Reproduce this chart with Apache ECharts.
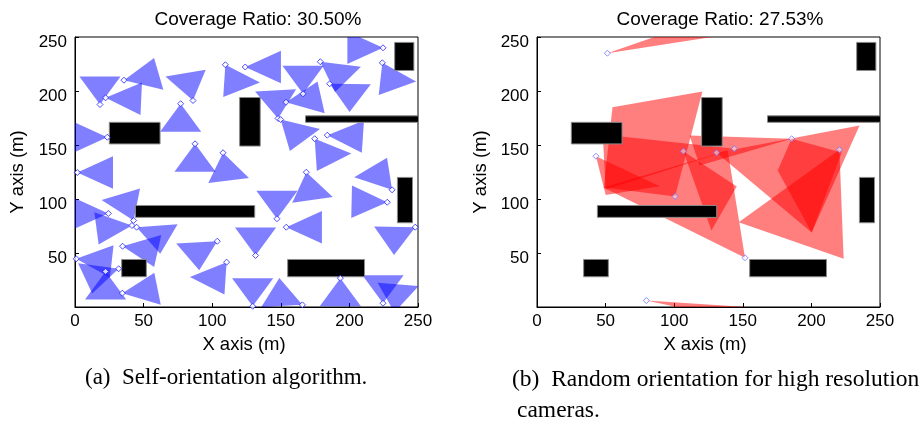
<!DOCTYPE html>
<html><head><meta charset="utf-8">
<script src="https://cdn.jsdelivr.net/npm/echarts@6/dist/echarts.min.js"></script>
<style>html,body{margin:0;padding:0;background:#fff}#c{width:924px;height:427px}</style>
</head><body><div id="c"></div>
<script>
// ---------- data ----------
const titles = ['Coverage Ratio: 30.50%', 'Coverage Ratio: 27.53%'];
const xTicks = [0, 50, 100, 150, 200, 250];
const yTicks = [50, 100, 150, 200, 250];

// obstacles (m): x1, x2, y1, y2
const obsX1 = [233, 25, 120, 168, 44, 235, 34, 155];
const obsX2 = [247, 62, 135, 252, 131, 246, 52, 211];
const obsY1 = [219, 151, 149, 171, 83, 78, 28, 28];
const obsY2 = [245, 171, 194, 177, 94, 120, 44, 44];

// (a) self-orientation: camera position (m) and heading (deg)
const leftCamX = [18.2,22.3,35.7,86.0,77.0,23.5,87.5,107.9,124.1,109.6,166.2,178.8,185.6,153.8,148.0,149.9,183.9,174.7,168.6,224.5,224.0,1.7,24.3,42.7,41.5,44.9,34.7,103.7,110.5,0.9,22.3,31.8,34.5,147.2,154.0,131.6,231.1,227.6,248.0,129.5,165.7,193.4,224.5,250.4];
const leftCamY = [187.5,193.7,210.0,191.2,188.2,157.2,151.1,142.8,222.2,224.3,197.4,227.1,206.7,189.6,174.6,173.6,159.1,155.8,124.8,240.0,226.1,124.5,86.6,80.1,75.5,73.9,56.3,60.9,41.5,44.6,32.9,35.4,12.8,81.7,73.9,47.7,108.5,97.0,73.9,0.7,2.0,26.7,3.5,19.3];
const leftCamDir = [90,-2,13,102,-90,180,-90,-81,0,-63,90,-39,-31,10,94,-47,-3,-57,-80,180,-65,0,180,111,186,-25,-10,214,237,-5,-90,200,9,90,0,90,127,179,209,90,154,-90,90,204];
const fovDeg = 60, rangeM = 30;

// (b) random orientation: camera position and outline vertices of each field of view
const rightCamX = [51.3, 79.7, 100.6, 151.6, 220.4, 143.8, 185.6, 130.9, 106.7, 43.0];
const rightCamY = [235.0, 6.0, 102.4, 45.6, 145.6, 146.5, 155.8, 142.8, 144.3, 139.6];
const rightFarX = [[142.9,149.4],[179.4,176.0],[48.7,55.0,120.6],[48.4,139.0],[147.0,223.5],[47.9,50.1],[111.2,118.5,185.6,175.4,200.2,222.1],[235.1,200.2],[127.1,145.6],[50.1,89.5]];
const rightFarY = [[275.2,254.3],[-2.2,-20.0],[110.7,185.0,199.6],[110.7,144.9],[78.5,44.6],[159.7,108.8],[158.7,131.1,155.8,126.4,69.0,143.0],[168.1,69.0],[70.8,111.6],[103.7,111.9]];

// ---------- build ----------
const FONT = 'Liberation Sans, Arial, sans-serif';
const SERIF = 'Liberation Serif, Times New Roman, serif';
const leftTri = leftCamX.map((x, i) => {
  const y = leftCamY[i], d = leftCamDir[i] * Math.PI / 180, h = fovDeg / 2 * Math.PI / 180;
  return [x, y, x + rangeM * Math.cos(d - h), y + rangeM * Math.sin(d - h), x + rangeM * Math.cos(d + h), y + rangeM * Math.sin(d + h)];
});
const rightPoly = rightCamX.map((x, i) => {
  const v = [x, rightCamY[i]];
  rightFarX[i].forEach((fx, k) => { v.push(fx, rightFarY[i][k]); });
  return v;
});
const obsData = obsX1.map((x, i) => [x, obsX2[i], obsY1[i], obsY2[i]]);

function obsRender(params, api) {
  const p1 = api.coord([api.value(0), api.value(3)]);
  const p2 = api.coord([api.value(1), api.value(2)]);
  return { type: 'rect', shape: { x: p1[0], y: p1[1], width: p2[0] - p1[0], height: p2[1] - p1[1] },
    style: { fill: '#000', stroke: '#8a8a8a', lineWidth: 1 } };
}

const grids = [
  { left: 75, top: 37, width: 343, height: 270, show: true, borderColor: '#000', borderWidth: 1, backgroundColor: '#fff' },
  { left: 537, top: 37, width: 343, height: 270, show: true, borderColor: '#000', borderWidth: 1, backgroundColor: '#fff' }
];
function xAx(g) {
  return { gridIndex: g, type: 'value', min: 0, max: 250, interval: 50,
    axisLine: { show: true, onZero: false, lineStyle: { color: '#000', width: 1 } },
    axisTick: { show: true, inside: true, length: 4, lineStyle: { color: '#000' } },
    axisLabel: { color: '#000', fontSize: 17, fontFamily: FONT, margin: 6,
      formatter: v => (xTicks.indexOf(v) >= 0 ? String(v) : '') },
    splitLine: { show: false } };
}
function yAx(g) {
  return { gridIndex: g, type: 'value', min: 0, max: 250, interval: 50,
    axisLine: { show: true, onZero: false, lineStyle: { color: '#000', width: 1 } },
    axisTick: { show: true, inside: true, length: 4, lineStyle: { color: '#000' } },
    axisLabel: { color: '#000', fontSize: 17, fontFamily: FONT, margin: 8,
      formatter: v => (yTicks.indexOf(v) >= 0 ? '{t|' + v + '}' : ''),
      rich: { t: { fontSize: 17, fontFamily: FONT, color: '#000', padding: [10, 0, 0, 0] } } },
    splitLine: { show: false } };
}

const option = {
  animation: false,
  backgroundColor: '#fff',
  title: [
    { text: titles[0], left: 253, top: 5, textAlign: 'center', textStyle: { fontSize: 19, fontWeight: 'normal', color: '#000', fontFamily: FONT } },
    { text: titles[1], left: 715, top: 5, textAlign: 'center', textStyle: { fontSize: 19, fontWeight: 'normal', color: '#000', fontFamily: FONT } }
  ],
  grid: grids,
  xAxis: [xAx(0), xAx(1)],
  yAxis: [yAx(0), yAx(1)],
  series: [
    { type: 'custom', xAxisIndex: 0, yAxisIndex: 0, clip: true, z: 1, data: leftTri,
      renderItem: function (params, api) {
        const pts = [];
        for (let k = 0; k < 6; k += 2) pts.push(api.coord([api.value(k), api.value(k + 1)]));
        return { type: 'polygon', shape: { points: pts }, style: { fill: 'rgba(0,0,255,0.5)' } };
      } },
    { type: 'custom', xAxisIndex: 1, yAxisIndex: 1, clip: true, z: 1, data: rightPoly.map(p => ({ value: p })),
      renderItem: function (params, api) {
        const p = rightPoly[params.dataIndex];
        const pts = [];
        for (let k = 0; k < p.length; k += 2) pts.push(api.coord([p[k], p[k + 1]]));
        return { type: 'polygon', shape: { points: pts }, style: { fill: 'rgba(255,0,0,0.5)' } };
      } },
    { type: 'custom', xAxisIndex: 0, yAxisIndex: 0, clip: true, z: 2, data: obsData, renderItem: obsRender },
    { type: 'custom', xAxisIndex: 1, yAxisIndex: 1, clip: true, z: 2, data: obsData, renderItem: obsRender },
    { type: 'scatter', xAxisIndex: 0, yAxisIndex: 0, z: 3, symbol: 'diamond', symbolSize: 6,
      itemStyle: { color: '#fff', borderColor: '#2020ff', borderWidth: 1 },
      data: leftCamX.map((x, i) => [x, leftCamY[i]]) },
    { type: 'scatter', xAxisIndex: 1, yAxisIndex: 1, z: 3, symbol: 'diamond', symbolSize: 6,
      itemStyle: { color: 'rgba(255,255,255,0.6)', borderColor: '#7070ff', borderWidth: 1 },
      data: rightCamX.map((x, i) => [x, rightCamY[i]]) }
  ],
  graphic: [
    { type: 'text', x: 18, y: 172, rotation: Math.PI / 2, style: { text: 'Y axis (m)', font: '18.5px ' + FONT, fill: '#000', textAlign: 'center', textVerticalAlign: 'middle' } },
    { type: 'text', x: 481, y: 172, rotation: Math.PI / 2, style: { text: 'Y axis (m)', font: '18.5px ' + FONT, fill: '#000', textAlign: 'center', textVerticalAlign: 'middle' } },
    { type: 'text', x: 244, y: 345, style: { text: 'X axis (m)', font: '18.5px ' + FONT, fill: '#000', textAlign: 'center', textVerticalAlign: 'middle' } },
    { type: 'text', x: 705, y: 345, style: { text: 'X axis (m)', font: '18.5px ' + FONT, fill: '#000', textAlign: 'center', textVerticalAlign: 'middle' } },
    { type: 'text', x: 85, y: 378, style: { text: '(a)\u2002Self-orientation algorithm.', font: '23px ' + SERIF, fill: '#000', textAlign: 'left', textVerticalAlign: 'middle' } },
    { type: 'text', x: 512, y: 380, style: { text: '(b)\u2002Random orientation for high resolution', font: '23.5px ' + SERIF, fill: '#000', textAlign: 'left', textVerticalAlign: 'middle' } },
    { type: 'text', x: 517, y: 411, style: { text: 'cameras.', font: '23.5px ' + SERIF, fill: '#000', textAlign: 'left', textVerticalAlign: 'middle' } }
  ]
};
const chart = echarts.init(document.getElementById('c'), null, { renderer: 'canvas' });
chart.setOption(option);
</script></body></html>
